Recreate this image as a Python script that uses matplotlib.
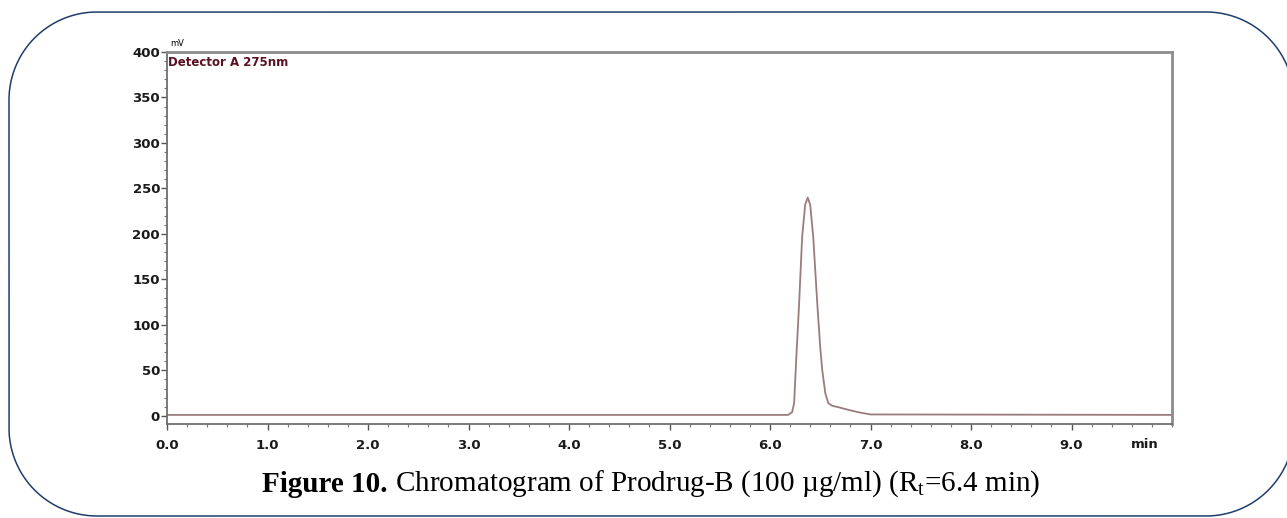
import numpy as np
import matplotlib.pyplot as plt
from matplotlib.path import Path
from matplotlib.patches import PathPatch

plt.rcParams['mathtext.fontset'] = 'custom'
plt.rcParams['mathtext.rm'] = 'Liberation Serif'

# chromatogram trace (min, mV)
tempo = [0.0, 6.18, 6.22, 6.24, 6.26, 6.29, 6.32, 6.35, 6.375, 6.40, 6.43,
         6.47, 6.50, 6.52, 6.55, 6.58, 6.62, 6.68, 6.73, 6.80, 6.90, 7.00, 10.0]
sinal = [1, 1, 4, 14, 60, 124, 197, 232, 240, 232, 197,
         124, 75, 50, 25, 14, 11, 9.5, 8, 6, 3.5, 1.5, 1]

xticks = [0, 1, 2, 3, 4, 5, 6, 7, 8, 9]
xlabels = ['0.0', '1.0', '2.0', '3.0', '4.0', '5.0', '6.0', '7.0', '8.0', '9.0']
yticks = [0, 50, 100, 150, 200, 250, 300, 350, 400]

W, H = 1287, 518
fig = plt.figure(figsize=(W / 100, H / 100), dpi=100)

# moldura arredondada (em pixels)
def caixa_arredondada(x0, y0, x1, y1, r):
    pts = []
    for cx, cy, a0 in [(x1 - r, y1 - r, 0), (x0 + r, y1 - r, 90),
                       (x0 + r, y0 + r, 180), (x1 - r, y0 + r, 270)]:
        ang = np.radians(np.linspace(a0, a0 + 90, 40))
        pts += list(zip(cx + r * np.cos(ang), cy + r * np.sin(ang)))
    pts.append(pts[0])
    return Path(pts)

moldura = PathPatch(caixa_arredondada(9, H - 516, 1294, H - 12, 88),
                    transform=None, fill=False, edgecolor='#1f3d6b',
                    linewidth=1.1, clip_on=False)
fig.patches.append(moldura)

ax = fig.add_axes([167 / W, 1 - 424 / H, (1172 - 167) / W, (424 - 52) / H])
ax.plot(tempo, sinal, color='#9a7c7e', linewidth=1.3)
ax.set_xlim(0, 10)
ax.set_ylim(-9, 400)

for lado in ['top', 'right']:
    ax.spines[lado].set_color('#8c8c8c')
    ax.spines[lado].set_linewidth(2)
ax.spines['left'].set_color('#6e6e6e')
ax.spines['bottom'].set_color('#6e6e6e')
ax.spines['left'].set_linewidth(1.3)
ax.spines['bottom'].set_linewidth(1.3)

ax.set_xticks(xticks)
ax.set_xticklabels(xlabels)
ax.set_xticks(np.arange(0, 10.01, 0.2), minor=True)
ax.set_yticks(yticks)
ax.set_yticks(np.arange(0, 401, 10), minor=True)
ax.tick_params(axis='both', which='major', length=4, width=1, color='#555555',
               labelsize=9.5)
ax.tick_params(axis='x', which='major', pad=7)
ax.tick_params(axis='y', which='major', pad=1)
ax.tick_params(axis='both', which='minor', length=2.5, width=0.8, color='#777777')
for lbl in ax.get_xticklabels() + ax.get_yticklabels():
    lbl.set_fontweight('bold')
    lbl.set_color('#1a1a1a')

fig.text(1145 / W, 1 - 445 / H, 'min', ha='center', va='center', fontsize=9.5,
         fontweight='bold', color='#1a1a1a')
fig.text(170 / W, 1 - 44 / H, 'mV', ha='left', va='center', fontsize=6)
fig.text(168 / W, 1 - 62 / H, 'Detector A 275nm', ha='left', va='center',
         fontsize=8.5, fontweight='bold', color='#5a1020')

# legenda da figura
t1 = fig.text(262 / W, 1 - 484 / H, 'Figure 10.', family='Liberation Serif',
              fontweight='bold', fontsize=21, va='center')
ax.annotate(' Chromatogram of Prodrug-B (100 µg/ml) (R$_\\mathregular{t}$=6.4 min)',
            xy=(1, 0.5), xycoords=t1, va='center', ha='left',
            family='Liberation Serif', fontsize=21, annotation_clip=False)

fig.savefig('out.png', dpi=100)
